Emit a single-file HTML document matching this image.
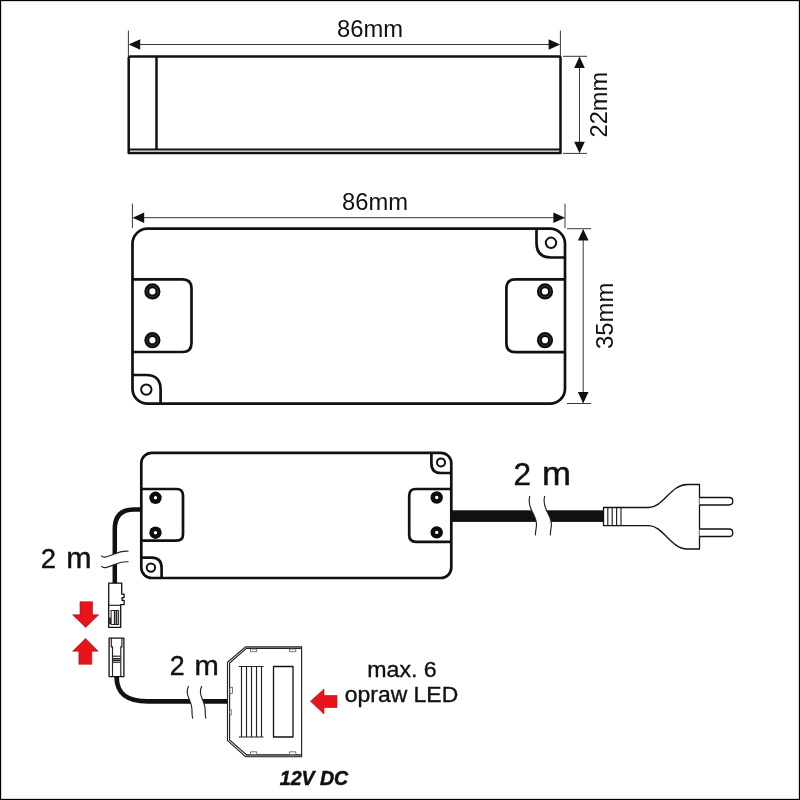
<!DOCTYPE html>
<html><head><meta charset="utf-8">
<style>
html,body{margin:0;padding:0;background:#fff;}
body{width:800px;height:800px;overflow:hidden;}
svg{display:block;will-change:transform;}
text{font-family:"Liberation Sans",sans-serif;fill:#111;}
.k{fill:none;stroke:#111;stroke-width:2.7;stroke-linejoin:round;}
.k2{fill:none;stroke:#111;stroke-width:2.7;stroke-linejoin:round;}
.t{fill:none;stroke:#222;stroke-width:0.9;}
.m{fill:none;stroke:#222;stroke-width:1.15;}
.w{fill:#fff;stroke:#111;stroke-width:1.3;stroke-linejoin:round;}
.r{fill:#e8131b;stroke:#a01015;stroke-width:0.6;}
</style></head><body>
<svg width="800" height="800" viewBox="0 0 800 800">
<defs>
<g id="scr"><circle r="5.6" fill="#fff" stroke="#0c0c0c" stroke-width="5"/><circle r="5.6" fill="none" stroke="#555" stroke-width="0.6"/></g>
<g id="scs"><circle r="6.2" fill="#0c0c0c"/><circle r="1.7" fill="#fff"/></g>
<path id="wave" d="M0 0 C-5 8 5 14 1.5 20 C-2 27 6 32 3.5 39.5"/>
</defs>
<rect x="0" y="0" width="800" height="800" fill="#fff"/>
<rect x="0.5" y="0.5" width="799" height="799" fill="none" stroke="#000" stroke-width="1.3"/>

<!-- ===== SECTION 1 : side view ===== -->
<g id="s1" style="--x:0">
<path class="k" style="stroke-width:2.5" d="M130.5 56.5 H559 Q560.5 56.5 560.5 58 V153.1 H128.7 V58.3 Q128.7 56.5 130.5 56.5 Z"/>
<line class="k" style="stroke-width:2.5" x1="156.5" y1="56.5" x2="156.5" y2="149"/>
<line x1="128.7" y1="149.5" x2="560.5" y2="149.5" stroke="#111" stroke-width="2.1"/>
<line class="t" x1="128.4" y1="30.5" x2="128.4" y2="56"/>
<line class="t" x1="560.4" y1="30.5" x2="560.4" y2="56"/>
<line class="t" x1="130" y1="44.5" x2="559" y2="44.5"/>
<path d="M128.6 44.5 L140.2 39.2 V49.8 Z" fill="#111"/>
<path d="M560.2 44.5 L548.6 39.2 V49.8 Z" fill="#111"/>
<text x="370" y="37" font-size="23" text-anchor="middle" textLength="66" lengthAdjust="spacingAndGlyphs">86mm</text>
<line class="t" x1="563" y1="56.3" x2="587" y2="56.3"/>
<line class="t" x1="563" y1="153.4" x2="587" y2="153.4"/>
<line class="t" x1="579.5" y1="58" x2="579.5" y2="152"/>
<path d="M579.5 56.5 L574.2 68 H584.8 Z" fill="#111"/>
<path d="M579.5 153.2 L574.2 141.7 H584.8 Z" fill="#111"/>
<text transform="translate(607,104.7) rotate(-90)" font-size="23" text-anchor="middle" textLength="65.5" lengthAdjust="spacingAndGlyphs">22mm</text>
</g>

<!-- ===== SECTION 2 : top view ===== -->
<g id="s2">
<rect class="k" x="132.5" y="228.7" width="432.5" height="175" rx="15" ry="15"/>
<path class="k" d="M132.5 279.3 H182.5 Q191.5 279.3 191.5 288.3 V343 Q191.5 352 182.5 352 H132.5"/>
<path class="k" d="M565 279.3 H515.4 Q506.4 279.3 506.4 288.3 V343.2 Q506.4 352.2 515.4 352.2 H565"/>
<use href="#scr" x="152.4" y="291.4"/>
<use href="#scr" x="152.4" y="340.2"/>
<use href="#scr" x="545" y="291.4"/>
<use href="#scr" x="545" y="340.2"/>
<!-- corner lugs -->
<path class="k" d="M132.5 375 H146 Q160.6 375 160.6 389.6 V403.7"/>
<circle cx="146.3" cy="389.6" r="5.2" fill="#fff" stroke="#111" stroke-width="2"/>
<path class="k" d="M565 257.5 H551 Q536.5 257.5 536.5 243 V228.7"/>
<circle cx="551" cy="242.8" r="5.2" fill="#fff" stroke="#111" stroke-width="2"/>
<!-- dims -->
<line class="t" x1="132.4" y1="203.7" x2="132.4" y2="228"/>
<line class="t" x1="565" y1="203.7" x2="565" y2="228"/>
<line class="t" x1="134" y1="217.7" x2="564" y2="217.7"/>
<path d="M132.6 217.7 L144.2 212.4 V223 Z" fill="#111"/>
<path d="M565 217.7 L553.4 212.4 V223 Z" fill="#111"/>
<text x="375" y="210" font-size="23" text-anchor="middle" textLength="66" lengthAdjust="spacingAndGlyphs">86mm</text>
<line class="t" x1="567" y1="228.7" x2="591" y2="228.7"/>
<line class="t" x1="567" y1="403.5" x2="591" y2="403.5"/>
<line class="t" x1="583.2" y1="230" x2="583.2" y2="402"/>
<path d="M583.2 228.9 L577.9 240.4 H588.5 Z" fill="#111"/>
<path d="M583.2 403.4 L577.9 391.9 H588.5 Z" fill="#111"/>
<text transform="translate(613,315.8) rotate(-90)" font-size="23" text-anchor="middle" textLength="66.5" lengthAdjust="spacingAndGlyphs">35mm</text>
</g>

<!-- ===== SECTION 3 : wiring ===== -->
<g id="s3">
<!-- power cable -->
<rect x="451" y="510.3" width="153" height="11.6" fill="#111"/>
<!-- thin cable to connector -->
<path d="M142 509.5 H134 Q114.8 509.5 114.8 529 V584" fill="none" stroke="#111" stroke-width="4.5"/>
<!-- driver -->
<rect class="k2" x="141.3" y="452.8" width="310" height="125.2" rx="10.5" ry="10.5" style="fill:#fff"/>
<path class="k2" d="M141.3 489 H176.5 Q183 489 183 495.5 V534.2 Q183 540.7 176.5 540.7 H141.3"/>
<path class="k2" d="M451.3 489 H416 Q409.2 489 409.2 495.8 V535 Q409.2 541.8 416 541.8 H451.3"/>
<use href="#scs" x="155.5" y="497.8"/>
<use href="#scs" x="155.5" y="532.7"/>
<use href="#scs" x="436.7" y="497.5"/>
<use href="#scs" x="436.7" y="532.4"/>
<path class="k2" d="M141.3 557.7 H151.5 Q161.6 557.7 161.6 568 V578"/>
<circle cx="150.9" cy="567.6" r="4.2" fill="#fff" stroke="#111" stroke-width="2"/>
<path class="k2" d="M451.3 473 H441 Q431.4 473 431.4 463.5 V452.8"/>
<circle cx="441" cy="462.4" r="4" fill="#fff" stroke="#111" stroke-width="2"/>
<!-- break on power cable -->
<path d="M529.9 496 C528 502 529.5 506 531.6 510.4 C534 515.5 536.6 519 536.5 525 C536.4 529 535 532 535.6 535.4 L550.5 535.4 C549.9 532 551.3 529 551.4 525 C551.5 519 548.9 515.5 546.5 510.4 C544.4 506 542.9 502 544.8 496 Z" fill="#fff"/>
<path class="m" d="M529.9 496 C528 502 529.5 506 531.6 510.4 C534 515.5 536.6 519 536.5 525 C536.4 529 535 532 535.6 535.4"/>
<path class="m" d="M 544.8 496 C 542.9 502 544.4 506 546.5 510.4 C 548.9 515.5 551.5 519 551.4 525 C 551.3 529 549.9 532 550.5 535.4"/>
<text x="513.6" y="485.2" font-size="31.5" stroke="#111" stroke-width="0.45">2</text>
<text x="542" y="485.2" font-size="33" textLength="29" lengthAdjust="spacingAndGlyphs" stroke="#111" stroke-width="0.45">m</text>
<!-- plug -->
<path class="w" d="M603.5 507.5 H649 C663 507.5 671 484.5 687 484.5 H699.5 V549 H687 C671 549 663 525.7 649 525.7 H603.5 Z" stroke-width="1.2"/>
<path class="m" d="M607.8 507.5 V525.7 M612.2 507.5 V525.7 M616.6 507.5 V525.7 M621 507.5 V525.7" stroke-width="1"/>
<path class="w" d="M699.5 497.5 H729 Q732.8 497.5 732.8 501.3 Q732.8 505 729 505 H699.5" stroke-width="0.95" stroke="#333"/>
<path class="w" d="M699.5 529 H729 Q732.8 529 732.8 532.7 Q732.8 536.5 729 536.5 H699.5" stroke-width="0.95" stroke="#333"/>
<!-- break on thin cable (left) -->
<path d="M101.2 555.6 C104 558.5 108 556.5 113 554.5 C118.5 552.2 123 550.6 128.5 551.2 L128.5 561.8 C123 561.2 118.5 562.8 113 565.1 C108 567.1 104 569.1 101.2 566.2 Z" fill="#fff"/>
<path class="m" d="M101.2 555.6 C104 558.5 108 556.5 113 554.5 C118.5 552.2 123 550.6 128.5 551.2"/>
<path class="m" d="M101.2 566.2 C104 569.1 108 567.1 113 565.1 C118.5 562.8 123 561.2 128.5 561.8"/>
<text x="40.8" y="568.2" font-size="27.5" stroke="#111" stroke-width="0.4">2</text>
<text x="66.2" y="568.2" font-size="29" textLength="25.3" lengthAdjust="spacingAndGlyphs" stroke="#111" stroke-width="0.4">m</text>
<!-- upper connector -->
<path class="w" d="M108.7 583.2 H121.7 V594.2 H124.1 V597.6 H122.1 V600.4 H124.1 V604.6 H120.7 V627.4 H108.7 Z" stroke-width="1.4"/>
<path class="m" d="M108.7 605.3 H120.7" stroke-width="1.2"/>
<rect x="111.1" y="610.5" width="7.5" height="14" fill="#fff" stroke="#222" stroke-width="1"/>
<rect x="114.6" y="611.2" width="3.4" height="12.8" fill="#aaa"/>
<path class="m" d="M114.4 611 V624 M116.4 611 V624" stroke-width="0.6" stroke="#555"/>
<rect x="109.2" y="617.6" width="1.9" height="6.4" fill="#222"/>
<!-- lower connector -->
<rect class="w" x="109.1" y="638.2" width="14.8" height="38.4" stroke-width="1.5"/>
<path class="m" d="M111.3 638.2 V646.8 H112.5 V676 M121.9 638.2 V646.8 H120.8 V676" stroke-width="0.9" stroke="#222"/>
<path class="m" d="M112.5 656.2 H120.8" stroke-width="0.9" stroke="#333"/>
<rect x="112.9" y="658" width="7.5" height="4.4" fill="#c8c8c8"/>
<path class="m" d="M112.5 658.6 H120.8 M112.5 660.3 H120.8 M112.5 662.2 H120.8" stroke-width="0.6" stroke="#666"/>
<!-- thick cable lower -->
<path d="M116.6 676.5 C116.6 695 128 701.4 148 701.4 H228" fill="none" stroke="#111" stroke-width="4.7"/>
<!-- break lower cable -->
<path d="M188.6 686 C184.5 693 190 699 191.5 706 C192.6 711 191.3 714 192.8 718.6 L206 718.6 C204.5 714 205.8 711 204.7 706 C203.2 699 197.7 693 201.8 686 Z" fill="#fff"/>
<path class="m" d="M188.6 686 C184.5 693 190 699 191.5 706 C192.6 711 191.3 714 192.8 718.6"/>
<path class="m" d="M201.8 686 C197.7 693 203.2 699 204.7 706 C205.8 711 204.5 714 206 718.6"/>
<g stroke="#111" stroke-width="0.4">
<text x="169.8" y="675.3" font-size="26.8">2</text>
<text x="194.6" y="675.3" font-size="27" textLength="24.3" lengthAdjust="spacingAndGlyphs">m</text>
</g>
<!-- red arrows -->
<path class="r" d="M80 601.8 H92.5 V614.8 H98.7 L85.7 627.4 L72.6 614.8 H80 Z"/>
<path class="r" d="M78.9 664.3 H91.8 V651.2 H98.2 L85.6 638.4 L72.6 651.2 H78.9 Z"/>
<path class="r" d="M337 695.5 V707.5 H324 V714 L310.5 701.3 L324 689 V695.5 Z"/>
<!-- distributor -->
<path d="M245.6 646.7 H301.6 V756.7 H245.6 L227.5 740.6 V662.2 Z" fill="#fff"/>
<path d="M246 754.4 H301.4 V756.6 H245.6 Z" fill="#8a8a8a"/>
<path d="M246.3 647.2 H301 V648.6 H246.3 Z" fill="#9a9a9a"/>
<path class="m" d="M300.8 648.3 H246.4 L229.6 663 V739.9 L246.4 754.7 H300.8" stroke-width="0.8" stroke="#444"/>
<path class="m" d="M245.6 646.7 H301.6 V756.7 H245.6 L227.5 740.6 V662.2 Z" stroke-width="1.5" stroke-linejoin="miter"/>
<path class="m" d="M238.8 666.5 H263.5 M238.8 737 H263.5" stroke-width="1" stroke="#333"/>
<path class="m" d="M241.5 666.5 V737 M246.5 666.5 V737" stroke-width="0.95" stroke="#222"/>
<path class="m" d="M251.5 666.5 V737" stroke-width="0.95" stroke="#333"/>
<path class="m" d="M256.5 666.5 V737" stroke-width="0.95" stroke="#555"/>
<path class="m" d="M261.5 666.5 V737" stroke-width="0.95" stroke="#888"/>
<rect class="w" x="273.5" y="666.5" width="19.5" height="70.5" stroke-width="1.05" stroke="#222"/>
<path d="M250.5 649 H256.7 V651.7 H250.5 Z M289.5 649 H295.8 V651.7 H289.5 Z M250.5 751.8 H256.7 V754.5 H250.5 Z M289.5 751.8 H295.8 V754.5 H289.5 Z" fill="#fff" stroke="#555" stroke-width="0.8"/>
<rect x="229.9" y="687.3" width="2.5" height="6" fill="#fff" stroke="#555" stroke-width="0.8"/>
<rect x="229.9" y="709.8" width="1.4" height="5.2" fill="#fff" stroke="#666" stroke-width="0.7"/>
<!-- labels -->
<g stroke="#111" stroke-width="0.35">
<text x="402" y="677.4" font-size="22" text-anchor="middle" textLength="69.5" lengthAdjust="spacingAndGlyphs">max. 6</text>
<text x="401.5" y="702" font-size="22" text-anchor="middle" textLength="113.5" lengthAdjust="spacingAndGlyphs">opraw LED</text>
</g>
<text x="314" y="784.6" font-size="19.8" font-weight="bold" font-style="italic" text-anchor="middle" textLength="68.5" lengthAdjust="spacingAndGlyphs" stroke="#111" stroke-width="0.5">12V DC</text>
</g>
</svg>
</body></html>
